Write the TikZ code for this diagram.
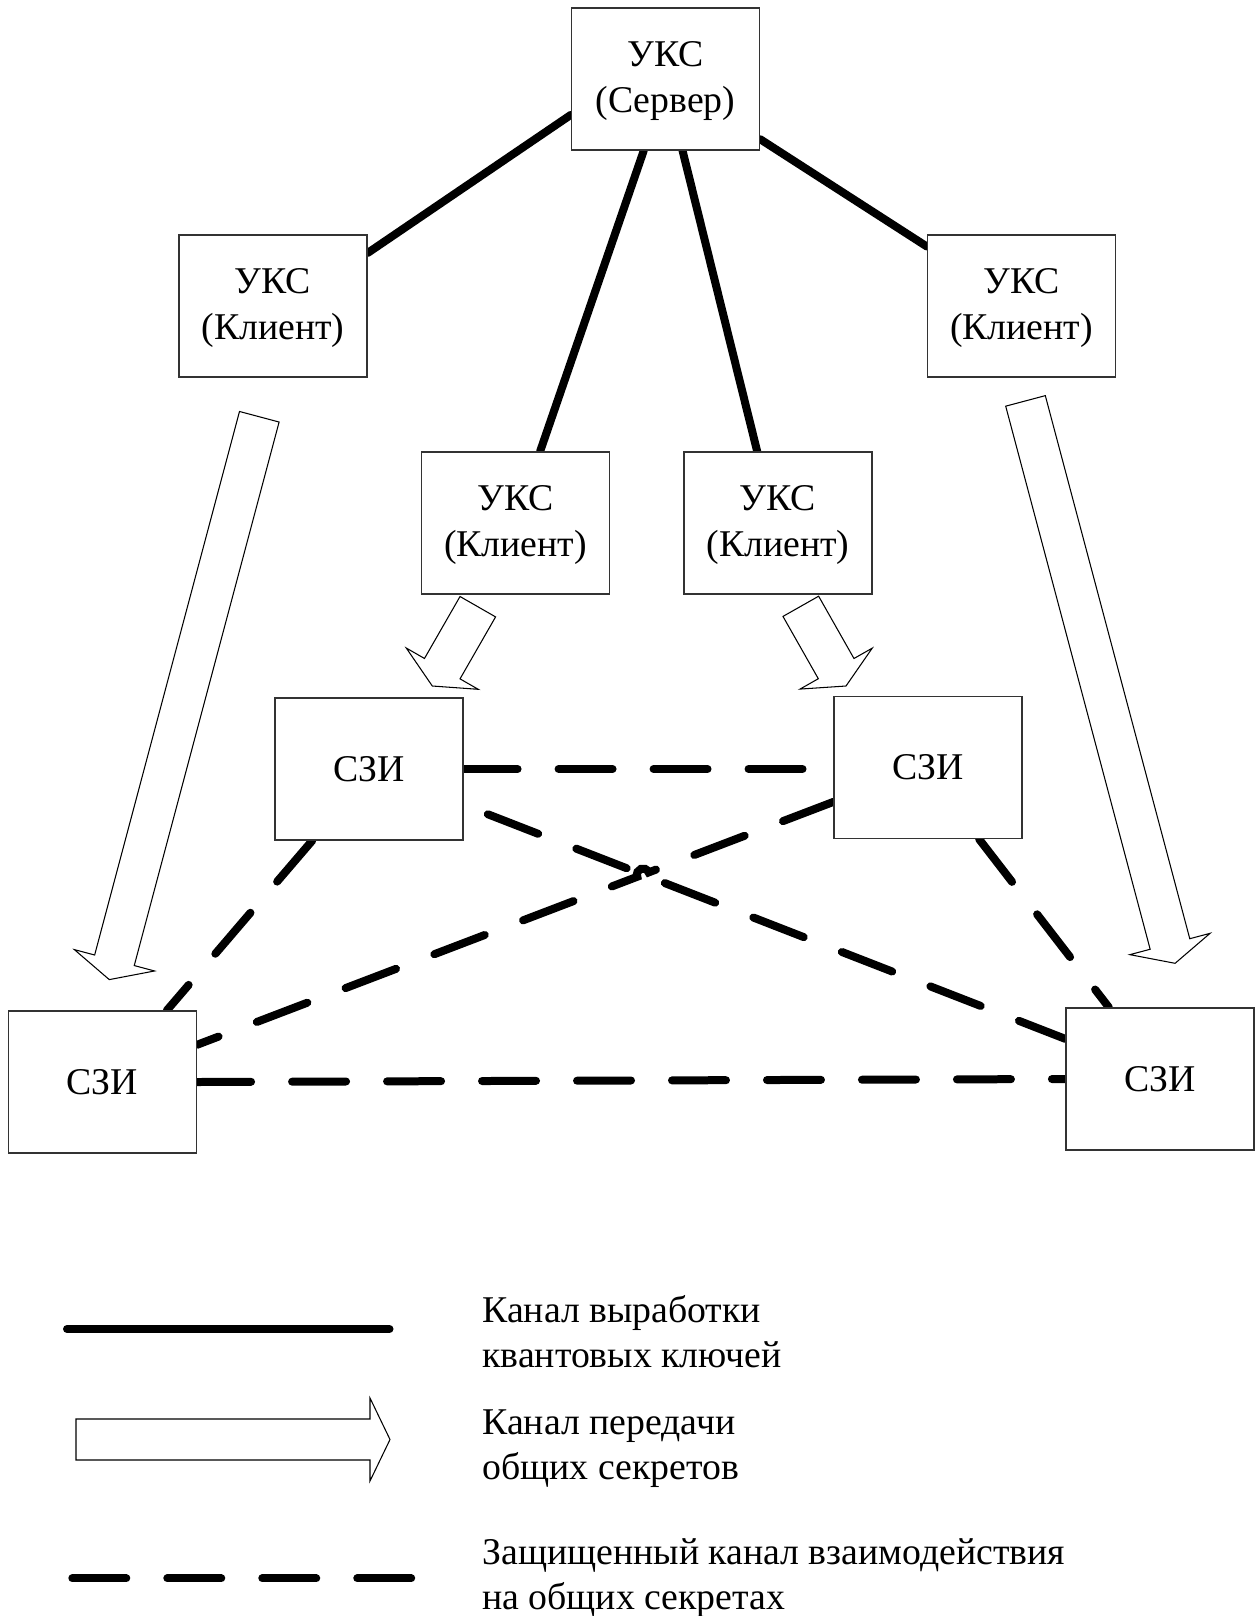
\documentclass[tikz,border=0pt]{standalone}
\usepackage{fontspec}
\setmainfont{Liberation Serif}
\usetikzlibrary{calc,intersections}
\pgfdeclarelayer{lines}
\pgfsetlayers{lines,main}
\tikzset{
  box/.style={draw=black!80, line width=0.7pt, fill=white,
    minimum width=3.76cm, minimum height=2.84cm, inner sep=0pt,
    align=center, font=\fontsize{21.5}{26}\selectfont},
  keyline/.style={line width=0.16cm, line cap=round},
  secline/.style={line width=0.16cm, line cap=round,
    dash pattern=on 1.08cm off 0.82cm},
  hollow/.style={draw=black, line width=0.6pt, fill=white, line join=miter},
  legendtext/.style={font=\fontsize{21.5}{26}\selectfont, align=left,
    anchor=west, inner sep=0pt}
}
% strut that lowers two-line box captions slightly
\newcommand\capstrut{\rule{0pt}{16.6pt}}
% hollow block arrow from tail centre #1 to tip #2
\newcommand\hollowarrow[2]{%
  \coordinate (hb) at ($(#2)!0.4cm!(#1)$);
  \draw[hollow] ($(#1)!0.41cm!90:(#2)$) -- ($(hb)!0.41cm!-90:(#1)$)
    -- ($(hb)!0.83cm!-90:(#1)$) -- (#2) -- ($(hb)!0.83cm!90:(#1)$)
    -- ($(hb)!0.41cm!90:(#1)$) -- ($(#1)!0.41cm!-90:(#2)$) -- cycle;}
\begin{document}
\begin{tikzpicture}[x=0.02cm, y=-0.02cm]
\useasboundingbox (0,0) rectangle (1260,1616);

% key distribution devices
\node[box] (srv) at (665.5,79) {\capstrut УКС\\(Сервер)};
\node[box] (c1) at (273,306) {\capstrut УКС\\(Клиент)};
\node[box] (c4) at (1021.5,306) {\capstrut УКС\\(Клиент)};
\node[box] (c2) at (515.5,523) {\capstrut УКС\\(Клиент)};
\node[box] (c3) at (778,523) {\capstrut УКС\\(Клиент)};

% information security tools
\node[box] (sz1) at (369,769) {СЗИ};
\node[box] (sz2) at (928,767.5) {СЗИ};
\node[box] (sz3) at (102.5,1082) {СЗИ};
\node[box] (sz4) at (1160,1079) {СЗИ};

\begin{pgfonlayer}{lines}
  % quantum key channels
  \draw[keyline] ($(srv.north west)!0.75!(srv.south west)$) -- ($(c1.north east)!0.13!(c1.south east)$);
  \draw[keyline] ($(srv.south west)!0.385!(srv.south east)$) -- ($(c2.north west)!0.63!(c2.north east)$);
  \draw[keyline] ($(srv.south west)!0.59!(srv.south east)$) -- ($(c3.north west)!0.39!(c3.north east)$);
  \draw[keyline] ($(srv.north east)!0.92!(srv.south east)$) -- ($(c4.north west)!0.085!(c4.south west)$);

  % protected channels
  \draw[secline] (sz1.east) -- (sz1.east -| sz2.west);
  \coordinate (d2s) at ($(sz1.north east)!0.75!(sz1.south east)$);
  \coordinate (d2e) at ($(sz4.north west)!0.22!(sz4.south west)$);
  \coordinate (d3s) at ($(sz2.north west)!0.74!(sz2.south west)$);
  \coordinate (d3e) at ($(sz3.north east)!0.24!(sz3.south east)$);
  \draw[secline, shorten <=0.52cm] (d2s) -- (d2e);
  \path[name path=p2] (d2s) -- (d2e);
  \path[name path=p3] (d3s) -- (d3e);
  \path[name intersections={of=p2 and p3, by=X}];
  \coordinate (h1) at ($(X)!0.12cm!(d3s)$);
  \coordinate (h2) at ($(X)!0.12cm!(d3e)$);
  \draw[secline] (d3s) -- (h1) .. controls ($(h1)!0.16cm!-90:(X)$) and ($(h2)!0.16cm!90:(X)$) .. (h2) -- (d3e);
  \draw[secline] ($(sz1.south west)!0.2!(sz1.south east)$) -- ($(sz3.north west)!0.84!(sz3.north east)$);
  \draw[secline] ($(sz2.south west)!0.77!(sz2.south east)$) -- ($(sz4.north west)!0.23!(sz4.north east)$);
  \draw[secline] (sz3.east) -- (sz4.west);
\end{pgfonlayer}

% shared secret transfer channels
\coordinate (a1t) at (259.3,416.75);  \coordinate (a1h) at (109.3,979.6);
\coordinate (a2t) at (1025.5,400.9);  \coordinate (a2h) at (1175.1,963.3);
\coordinate (a3t) at (477.8,606.7);   \coordinate (a3h) at (432.3,686);
\coordinate (a4t) at (800.8,606.3);   \coordinate (a4h) at (846,686);
\hollowarrow{a1t}{a1h}
\hollowarrow{a2t}{a2h}
\hollowarrow{a3t}{a3h}
\hollowarrow{a4t}{a4h}

% legend
\coordinate (k1) at (67,1329);   \coordinate (k2) at (389.5,1329);
\draw[keyline] (k1) -- (k2);
\node[legendtext] (t1) at (482,1331.6) {Канал выработки\\квантовых ключей};
\coordinate (g1) at (76,1439.5); \coordinate (g2) at (390,1439.5);
\hollowarrow{g1}{g2}
\node[legendtext] (t2) at (482,1448.5) {Канал передачи\\общих секретов};
\coordinate (s1) at (72.3,1578.3); \coordinate (s2) at (412,1578.3);
\draw[secline] (s1) -- (s2);
\node[legendtext] (t3) at (482,1578) {Защищенный канал взаимодействия\\на общих секретах};
\end{tikzpicture}
\end{document}
